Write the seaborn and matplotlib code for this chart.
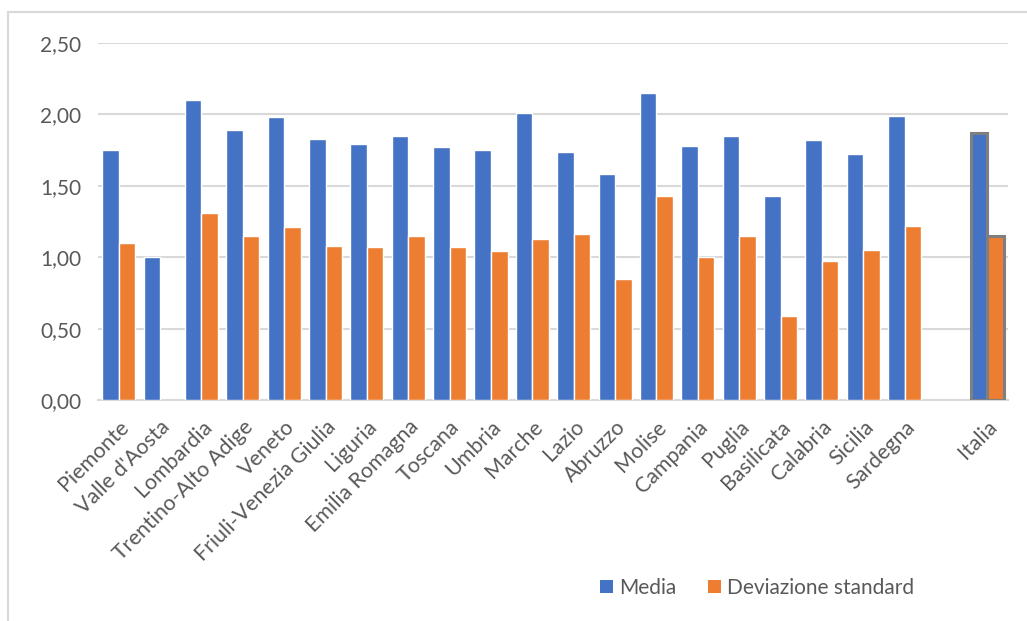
import matplotlib
matplotlib.use("Agg")
import matplotlib.pyplot as plt
from matplotlib.ticker import FuncFormatter
from matplotlib.patches import Patch
from matplotlib.lines import Line2D
import seaborn as sns
import pandas as pd

regioni = ["Piemonte", "Valle d'Aosta", "Lombardia", "Trentino-Alto Adige", "Veneto",
           "Friuli-Venezia Giulia", "Liguria", "Emilia Romagna", "Toscana", "Umbria",
           "Marche", "Lazio", "Abruzzo", "Molise", "Campania", "Puglia", "Basilicata",
           "Calabria", "Sicilia", "Sardegna", " ", "Italia"]
media = [1.75, 1.00, 2.10, 1.89, 1.98, 1.83, 1.79, 1.85, 1.77, 1.75,
         2.01, 1.74, 1.58, 2.15, 1.78, 1.85, 1.43, 1.82, 1.72, 1.99, None, 1.87]
dev_std = [1.10, None, 1.31, 1.15, 1.21, 1.08, 1.07, 1.15, 1.07, 1.04,
           1.13, 1.16, 0.85, 1.43, 1.00, 1.15, 0.59, 0.97, 1.05, 1.22, None, 1.15]
serie = ["Media", "Deviazione standard"]

BLUE, ORANGE, TEXT, GRID = "#4472C4", "#ED7D31", "#595959", "#D9D9D9"

rows = []
for r, m, s in zip(regioni, media, dev_std):
    if m is not None:
        rows.append((r, serie[0], m))
    if s is not None:
        rows.append((r, serie[1], s))
df = pd.DataFrame(rows, columns=["Regione", "Statistica", "Valore"])

sns.set_style("white")
plt.rcParams["font.family"] = ["Lato", "DejaVu Sans"]

fig = plt.figure(figsize=(10.27, 6.21), dpi=100)
ax = fig.add_axes([98 / 1027, 1 - 400 / 621, 910 / 1027, 357 / 621])

sns.barplot(data=df, x="Regione", y="Valore", hue="Statistica", order=regioni,
            hue_order=serie, palette=[BLUE, ORANGE], saturation=1, width=0.8,
            errorbar=None, edgecolor="white", linewidth=1, ax=ax, zorder=3)

# highlight the national total bars with a grey outline
italia_idx = regioni.index("Italia")
for cont in ax.containers:
    for bar in cont:
        cx = bar.get_x() + bar.get_width() / 2
        if abs(cx - italia_idx) < 0.5:
            bar.set_edgecolor("#7F7F7F")
            bar.set_linewidth(2.2)

ax.set_ylim(0, 2.5)
ax.set_xlim(-0.5, len(regioni) - 0.5)
ax.set_yticks([0, 0.5, 1.0, 1.5, 2.0, 2.5])
ax.yaxis.set_major_formatter(FuncFormatter(lambda v, p: f"{v:.2f}".replace(".", ",")))
ax.grid(axis="y", color=GRID, linewidth=1.5, zorder=0)
ax.set_axisbelow(True)
for side in ["top", "right", "left"]:
    ax.spines[side].set_visible(False)
ax.spines["bottom"].set_color(GRID)
ax.spines["bottom"].set_linewidth(1.5)
ax.set_xlabel("")
ax.set_ylabel("")
ax.tick_params(axis="y", length=0, pad=12, labelsize=15, labelcolor=TEXT)
ax.tick_params(axis="x", length=0, pad=12, labelsize=15.4, labelcolor=TEXT)
ax.set_xticks(range(len(regioni)))
ax.set_xticklabels(regioni, rotation=45, ha="right", rotation_mode="anchor")
if ax.get_legend() is not None:
    ax.get_legend().remove()

handles = [Patch(facecolor=BLUE, edgecolor="none"), Patch(facecolor=ORANGE, edgecolor="none")]
fig.legend(handles, serie, loc="center", bbox_to_anchor=(757 / 1027, 1 - 588 / 621),
           ncol=2, frameon=False, fontsize=15, labelcolor=TEXT,
           handlelength=0.62, handleheight=0.62, handletextpad=0.3, columnspacing=1.5)

# chart area border
fig.add_artist(Line2D([8 / 1027, 1], [1 - 12 / 621, 1 - 12 / 621],
                      transform=fig.transFigure, color=GRID, linewidth=1.5))
fig.add_artist(Line2D([8 / 1027, 8 / 1027], [0, 1 - 12 / 621],
                      transform=fig.transFigure, color=GRID, linewidth=1.5))

fig.savefig("out.png", dpi=100, facecolor="white")
